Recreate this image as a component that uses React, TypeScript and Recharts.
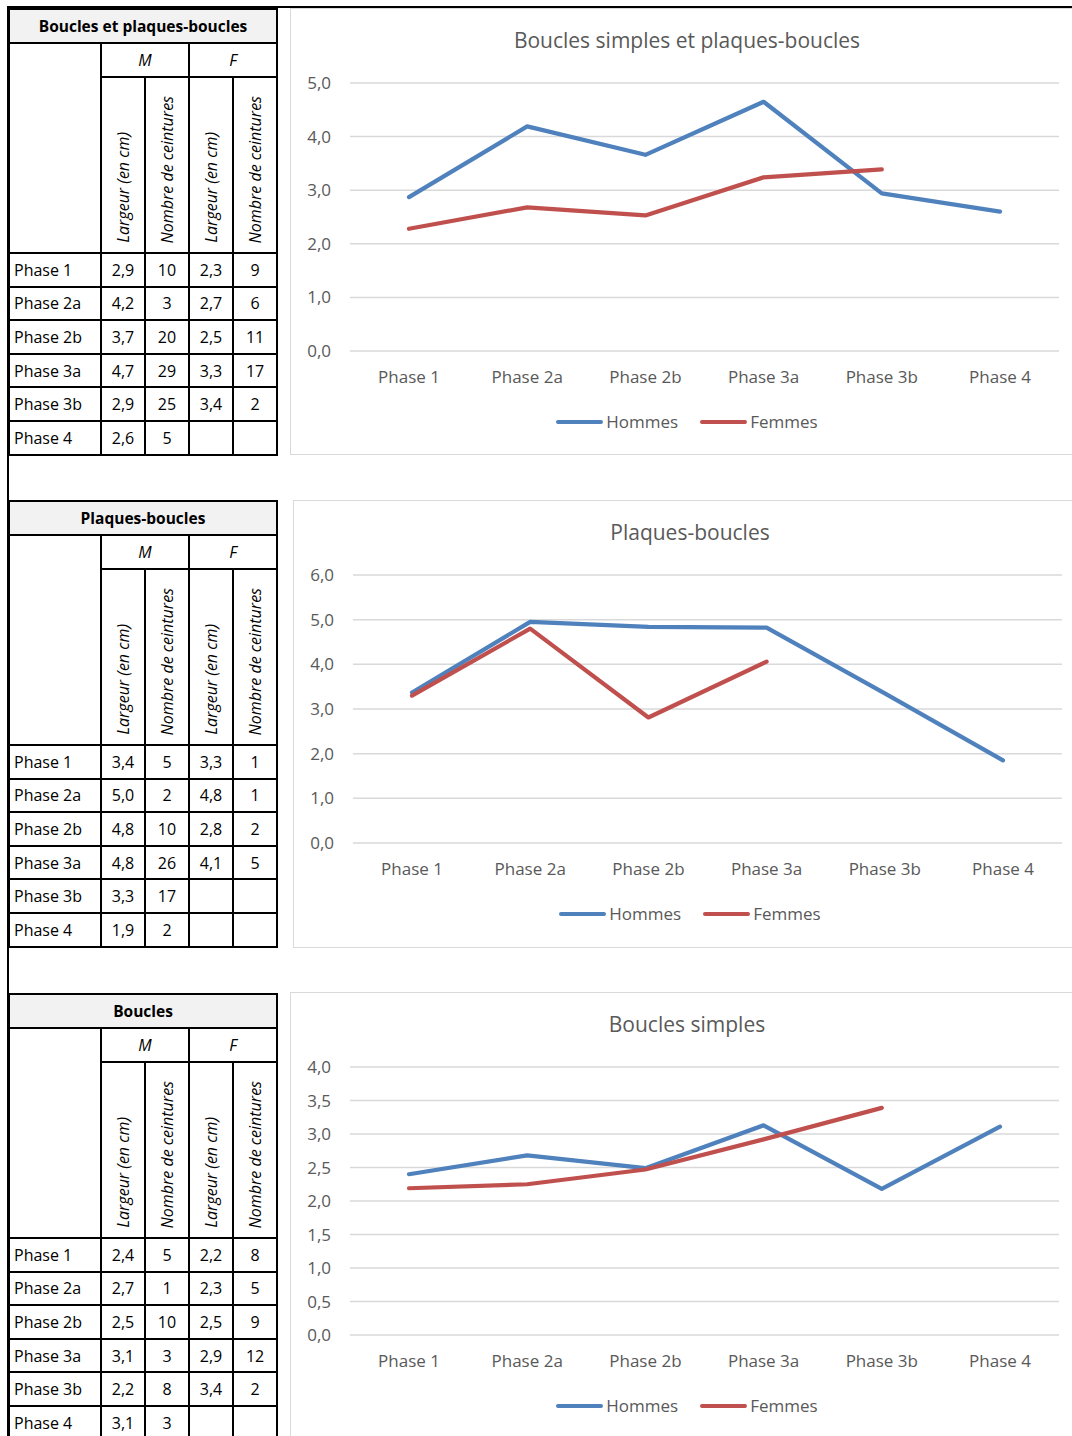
import React from 'react';
import { LineChart, Line, XAxis, YAxis, CartesianGrid } from 'recharts';

const phases = ['Phase 1', 'Phase 2a', 'Phase 2b', 'Phase 3a', 'Phase 3b', 'Phase 4'];

// values
const allHommes = [2.87, 4.19, 3.66, 4.65, 2.94, 2.6];
const allFemmes = [2.28, 2.68, 2.53, 3.24, 3.39, null];
const plaquesHommes = [3.37, 4.95, 4.84, 4.82, 3.35, 1.85];
const plaquesFemmes = [3.3, 4.8, 2.81, 4.06, null, null];
const bouclesHommes = [2.4, 2.68, 2.49, 3.13, 2.18, 3.11];
const bouclesFemmes = [2.19, 2.25, 2.47, 2.92, 3.39, null];

const ticksAll = [0, 1, 2, 3, 4, 5];
const ticksPlaques = [0, 1, 2, 3, 4, 5, 6];
const ticksBoucles = [0, 0.5, 1, 1.5, 2, 2.5, 3, 3.5, 4];

// table cells: M largeur, M nombre, F largeur, F nombre
const allTable = [
  ['2,9', '10', '2,3', '9'],
  ['4,2', '3', '2,7', '6'],
  ['3,7', '20', '2,5', '11'],
  ['4,7', '29', '3,3', '17'],
  ['2,9', '25', '3,4', '2'],
  ['2,6', '5', '', ''],
];
const plaquesTable = [
  ['3,4', '5', '3,3', '1'],
  ['5,0', '2', '4,8', '1'],
  ['4,8', '10', '2,8', '2'],
  ['4,8', '26', '4,1', '5'],
  ['3,3', '17', '', ''],
  ['1,9', '2', '', ''],
];
const bouclesTable = [
  ['2,4', '5', '2,2', '8'],
  ['2,7', '1', '2,3', '5'],
  ['2,5', '10', '2,5', '9'],
  ['3,1', '3', '2,9', '12'],
  ['2,2', '8', '3,4', '2'],
  ['3,1', '3', '', ''],
];

const headers = ['Largeur (en cm)', 'Nombre de ceintures', 'Largeur (en cm)', 'Nombre de ceintures'];

const BLUE = '#4F81BD';
const RED = '#C0504D';
const FONT = '"Open Sans", sans-serif';

const cell: React.CSSProperties = {
  border: '2px solid #000',
  padding: 0,
  textAlign: 'center',
  verticalAlign: 'middle',
};

const DataTable = ({ title, rows, top }: { title: string; rows: string[][]; top: number }) => (
  <table
    style={{
      position: 'absolute',
      left: 8,
      top,
      borderCollapse: 'collapse',
      tableLayout: 'fixed',
      width: 269,
      fontFamily: FONT,
      fontSize: 16,
      color: '#000',
    }}
  >
    <colgroup>
      <col style={{ width: 92 }} />
      <col style={{ width: 44 }} />
      <col style={{ width: 44 }} />
      <col style={{ width: 44 }} />
      <col style={{ width: 44 }} />
    </colgroup>
    <tbody>
      <tr style={{ height: 34 }}>
        <td colSpan={5} style={{ ...cell, background: '#f2f2f2', fontWeight: 700, fontSize: 15.5 }}>
          {title}
        </td>
      </tr>
      <tr style={{ height: 34 }}>
        <td rowSpan={2} style={cell} />
        <td colSpan={2} style={{ ...cell, fontStyle: 'italic' }}>M</td>
        <td colSpan={2} style={{ ...cell, fontStyle: 'italic' }}>F</td>
      </tr>
      <tr style={{ height: 176 }}>
        {headers.map((h, i) => (
          <td key={i} style={{ ...cell, verticalAlign: 'bottom', paddingBottom: 4 }}>
            <div
              style={{
                display: 'inline-block',
                writingMode: 'vertical-rl',
                transform: 'rotate(180deg)',
                fontStyle: 'italic',
                whiteSpace: 'nowrap',
              }}
            >
              {h}
            </div>
          </td>
        ))}
      </tr>
      {phases.map((p, i) => (
        <tr key={p} style={{ height: 33.6 }}>
          <td style={{ ...cell, textAlign: 'left', paddingLeft: 4 }}>{p}</td>
          {rows[i].map((v, j) => (
            <td key={j} style={cell}>{v}</td>
          ))}
        </tr>
      ))}
    </tbody>
  </table>
);

const fmt = (v: number) => v.toFixed(1).replace('.', ',');

const ChartPanel = ({
  title,
  hommes,
  femmes,
  ticks,
  left,
  top,
  height,
}: {
  title: string;
  hommes: (number | null)[];
  femmes: (number | null)[];
  ticks: number[];
  left: number;
  top: number;
  height: number;
}) => {
  const data = phases.map((p, i) => ({ phase: p, Hommes: hommes[i], Femmes: femmes[i] }));
  const width = 1072 - left;
  const plotBottom = 343;
  return (
    <>
      <div
        style={{
          position: 'absolute',
          left,
          top,
          width: 820,
          height,
          border: '1.5px solid #d9d9d9',
          boxSizing: 'border-box',
        }}
      />
      <div
        style={{
          position: 'absolute',
          left,
          top: top + 18,
          width: 794,
          textAlign: 'center',
          fontFamily: FONT,
          fontSize: 21,
          color: '#595959',
        }}
      >
        {title}
      </div>
      <div style={{ position: 'absolute', left, top }}>
        <LineChart
          width={width}
          height={height}
          data={data}
          margin={{ top: 75, right: width - 60 - 709, bottom: height - plotBottom - 30, left: 0 }}
        >
          <CartesianGrid vertical={false} stroke="#d9d9d9" strokeWidth={1.5} />
          <XAxis
            dataKey="phase"
            axisLine={false}
            tickLine={false}
            tickSize={0}
            tickMargin={20}
            height={30}
            padding={{ left: 59, right: 59 }}
            tick={{ fill: '#595959', fontSize: 17, fontFamily: FONT }}
            interval={0}
          />
          <YAxis
            domain={[ticks[0], ticks[ticks.length - 1]]}
            ticks={ticks}
            tickFormatter={fmt}
            axisLine={false}
            tickLine={false}
            tickSize={0}
            tickMargin={19}
            width={60}
            tick={{ fill: '#595959', fontSize: 17, fontFamily: FONT }}
          />
          <Line
            type="linear"
            dataKey="Hommes"
            stroke={BLUE}
            strokeWidth={4.2}
            dot={false}
            strokeLinecap="round"
            strokeLinejoin="round"
            isAnimationActive={false}
          />
          <Line
            type="linear"
            dataKey="Femmes"
            stroke={RED}
            strokeWidth={4.2}
            dot={false}
            strokeLinecap="round"
            strokeLinejoin="round"
            isAnimationActive={false}
          />
        </LineChart>
      </div>
      <div
        style={{
          position: 'absolute',
          left,
          top: top + 402,
          width: 794,
          display: 'flex',
          justifyContent: 'center',
          alignItems: 'center',
          gap: 22,
          fontFamily: FONT,
          fontSize: 17,
          color: '#595959',
        }}
      >
        {[
          { name: 'Hommes', color: BLUE },
          { name: 'Femmes', color: RED },
        ].map((s) => (
          <div key={s.name} style={{ display: 'flex', alignItems: 'center', gap: 3 }}>
            <div style={{ width: 47, height: 4, borderRadius: 2, background: s.color }} />
            <span>{s.name}</span>
          </div>
        ))}
      </div>
    </>
  );
};

export default function App() {
  return (
    <div
      style={{
        position: 'absolute',
        left: 0,
        top: 0,
        width: 1072,
        height: 1436,
        overflow: 'hidden',
        background: '#fff',
      }}
    >
      <div style={{ position: 'absolute', left: 7, top: 6, width: 1065, height: 2, background: '#000' }} />
      <div style={{ position: 'absolute', left: 7, top: 6, width: 2, height: 1430, background: '#000' }} />

      <DataTable title="Boucles et plaques-boucles" rows={allTable} top={8} />
      <DataTable title="Plaques-boucles" rows={plaquesTable} top={500} />
      <DataTable title="Boucles" rows={bouclesTable} top={993} />

      <ChartPanel
        title="Boucles simples et plaques-boucles"
        hommes={allHommes}
        femmes={allFemmes}
        ticks={ticksAll}
        left={290}
        top={8}
        height={447}
      />
      <ChartPanel
        title="Plaques-boucles"
        hommes={plaquesHommes}
        femmes={plaquesFemmes}
        ticks={ticksPlaques}
        left={293}
        top={500}
        height={448}
      />
      <ChartPanel
        title="Boucles simples"
        hommes={bouclesHommes}
        femmes={bouclesFemmes}
        ticks={ticksBoucles}
        left={290}
        top={992}
        height={460}
      />
    </div>
  );
}
